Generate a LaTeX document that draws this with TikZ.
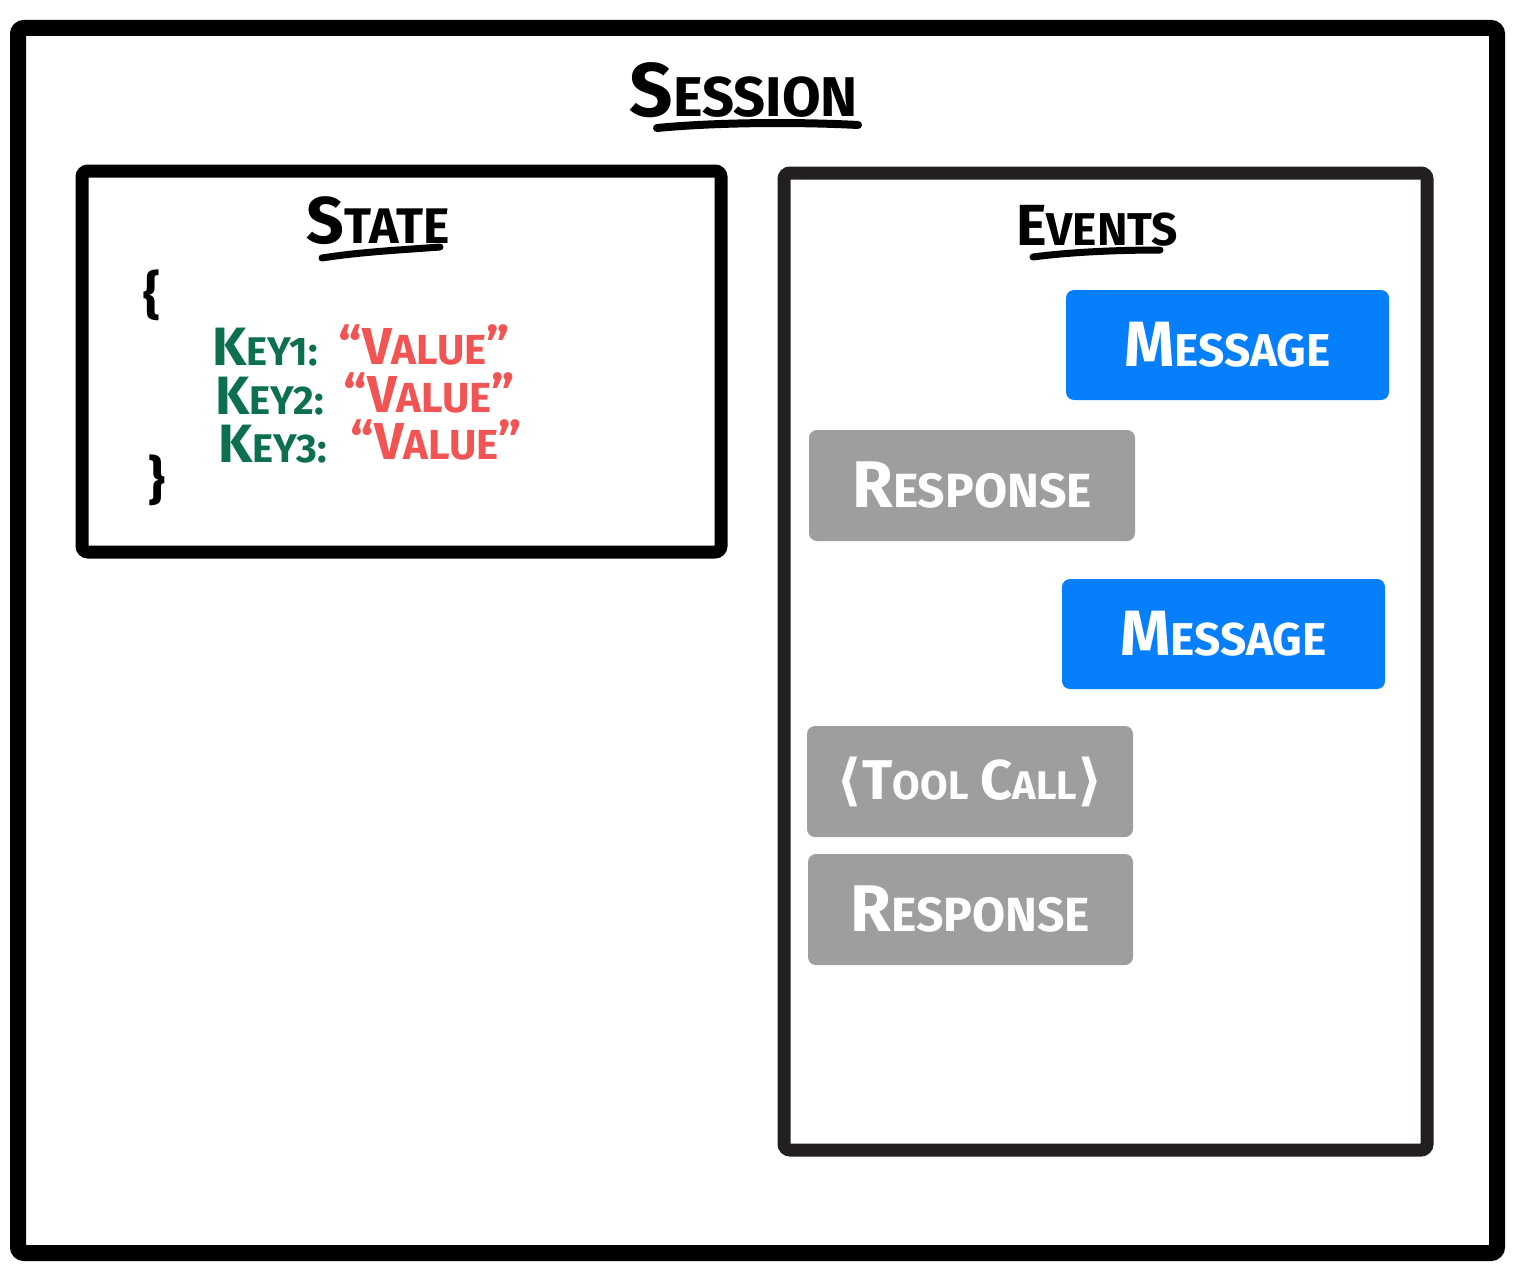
\documentclass[tikz,border=0pt]{standalone}
\usepackage{fontspec}
\setmainfont{Fira Sans}
\newfontfamily\djv{DejaVu Sans}
\definecolor{msgblue}{RGB}{6,127,252}
\definecolor{resgray}{RGB}{158,158,158}
\definecolor{framedark}{RGB}{35,31,32}
\definecolor{keygreen}{RGB}{12,112,80}
\definecolor{valred}{RGB}{242,84,84}
\newcommand\fs[2]{{\fontsize{#1}{#1}\selectfont #2}}
\tikzset{
  frame/.style={line width=8pt, draw=black, rounded corners=3pt},
  inframe/.style={line width=6.5pt, draw=framedark, rounded corners=3pt},
  evbox/.style={rounded corners=4pt, inner sep=0pt, text=white, font=\bfseries, anchor=center},
  msgbox/.style={evbox, fill=msgblue, minimum width=161.5pt, minimum height=55pt},
  resbox/.style={evbox, fill=resgray, minimum width=162.5pt, minimum height=55.5pt},
  title/.style={font=\bfseries, text=black, inner sep=0pt},
  uline/.style={line width=4pt, line cap=round, draw=black},
  keytxt/.style={font=\bfseries, text=keygreen, anchor=west, inner sep=0pt},
  valtxt/.style={font=\bfseries, text=valred, anchor=west, inner sep=0pt},
}
\begin{document}
\begin{tikzpicture}[x=0.5pt, y=-0.5pt]
\useasboundingbox (0,0) rectangle (1520,1279);
% outer session frame
\draw[frame] (18,28) rectangle (1497,1253);
% state frame
\draw[inframe, draw=black] (82,171) rectangle (721,552);
% events frame
\draw[inframe] (784,173) rectangle (1427,1150);

% titles
\node[title] (session) at (744,90) {\fs{38}{S}\fs{28}{ESSION}};
\draw[uline] (657,128) .. controls (720,122) and (800,122) .. (858,125);
\node[title] (state) at (378,221) {\fs{33}{S}\fs{25}{TATE}};
\draw[uline, line width=3.5pt] (322,258) .. controls (360,252) and (400,250) .. (440,247);
\node[title] (events) at (1097,226) {\fs{29}{E}\fs{23}{VENTS}};
\draw[uline, line width=3.5pt] (1033,257) .. controls (1070,252) and (1120,250) .. (1160,250);

% state content
\node[title] (lbrace) at (152,295) {\fs{26}{\{}};
\node[title] (rbrace) at (157,480) {\fs{26}{\}}};
\node[keytxt] (k1) at (212,347) {\fs{27}{K}\fs{20}{EY1:}};
\node[valtxt] (v1) at (338,345) {\fs{26}{“V}\fs{21}{ALUE}\fs{26}{”}};
\node[keytxt] (k2) at (215,396) {\fs{27}{K}\fs{20}{EY2:}};
\node[valtxt] (v2) at (343,393) {\fs{26}{“V}\fs{21}{ALUE}\fs{26}{”}};
\node[keytxt] (k3) at (218,444) {\fs{27}{K}\fs{20}{EY3:}};
\node[valtxt] (v3) at (350,440) {\fs{26}{“V}\fs{21}{ALUE}\fs{26}{”}};

% events
\node[msgbox] (m1) at (1227.5,345) {\fs{32}{M}\fs{23}{ESSAGE}};
\node[resbox, minimum width=163pt] (r1) at (972,485.5) {\fs{33}{R}\fs{24}{ESPONSE}};
\node[msgbox] (m2) at (1223.5,634) {\fs{32}{M}\fs{23}{ESSAGE}};
\node[resbox, minimum width=163pt] (tc) at (970,781.5) {\fs{28}{{\djv ⟨}T}\fs{20}{OOL}\hspace{6pt}\fs{28}{C}\fs{20}{ALL}\fs{28}{\djv ⟩}};
\node[resbox] (r2) at (970.5,909.5) {\fs{33}{R}\fs{24}{ESPONSE}};
\end{tikzpicture}
\end{document}
